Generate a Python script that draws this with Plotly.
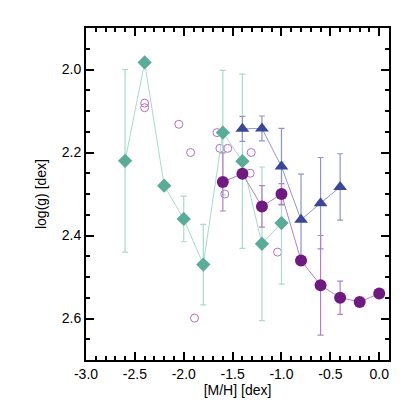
import plotly.graph_objects as go

# Teal diamonds
teal_x = [-2.6, -2.4, -2.2, -2.0, -1.8, -1.6, -1.4, -1.2, -1.0]
teal_y = [2.22, 1.983, 2.28, 2.36, 2.47, 2.152, 2.221, 2.42, 2.37]
teal_err = [0.22, 0.0, 0.0, 0.055, 0.097, 0.15, 0.21, 0.185, 0.147]

# Purple filled circles
purp_x = [-1.6, -1.4, -1.2, -1.0, -0.8, -0.6, -0.4, -0.2, 0.0]
purp_y = [2.271, 2.251, 2.33, 2.30, 2.46, 2.52, 2.55, 2.56, 2.54]
purp_err = [0.07, 0.0, 0.05, 0.025, 0.0, 0.12, 0.04, 0.0, 0.0]

# Blue triangles
blue_x = [-1.4, -1.2, -1.0, -0.8, -0.6, -0.4]
blue_y = [2.143, 2.142, 2.234, 2.362, 2.322, 2.283]
blue_err = [0.03, 0.03, 0.092, 0.11, 0.11, 0.08]

# Open circles
open_x = [-2.40, -2.40, -2.05, -1.93, -1.66, -1.63, -1.55, -1.58, -1.89, -1.31, -1.32, -1.04]
open_y = [2.081, 2.092, 2.132, 2.20, 2.152, 2.19, 2.19, 2.30, 2.599, 2.20, 2.25, 2.44]

x_ticks = [-3.0, -2.5, -2.0, -1.5, -1.0, -0.5, 0.0]
y_ticks = [2.0, 2.2, 2.4, 2.6]

FONT = "Liberation Sans, Arial, sans-serif"

fig = go.Figure()

fig.add_trace(go.Scatter(
    x=open_x, y=open_y, mode="markers",
    marker=dict(symbol="circle-open", size=8, color="#b56cc6", line=dict(width=1)),
    showlegend=False))

fig.add_trace(go.Scatter(
    x=teal_x, y=teal_y, mode="lines+markers",
    line=dict(color="#a9dacd", width=1),
    marker=dict(symbol="diamond", size=11, color="#5aab98"),
    error_y=dict(type="data", array=teal_err, color="#a9dacd", thickness=1.2, width=3),
    showlegend=False))

fig.add_trace(go.Scatter(
    x=blue_x, y=blue_y, mode="lines+markers",
    line=dict(color="#9097cc", width=1),
    marker=dict(symbol="triangle-up", size=12, color="#3a4798"),
    error_y=dict(type="data", array=blue_err, color="#8e95c9", thickness=1.2, width=3),
    showlegend=False))

fig.add_trace(go.Scatter(
    x=purp_x, y=purp_y, mode="lines+markers",
    line=dict(color="#b482c4", width=1),
    marker=dict(symbol="circle", size=12, color="#6f1a80"),
    error_y=dict(type="data", array=purp_err, color="#b482c4", thickness=1.2, width=3),
    showlegend=False))

axis_common = dict(
    showgrid=False, zeroline=False, showline=True, linecolor="black", linewidth=2,
    ticks="inside", tickcolor="black", tickwidth=1.5, ticklen=8,
    mirror="allticks",
    tickfont=dict(family=FONT, size=14, color="black"),
)

fig.update_xaxes(
    range=[-3.0, 0.1], tickvals=x_ticks, ticktext=[f"{v:.1f}" for v in x_ticks],
    minor=dict(dtick=0.1, ticks="inside", ticklen=4, tickcolor="black", tickwidth=1.5, tick0=0),
    title=dict(text="[M/H] [dex]", font=dict(family=FONT, size=14, color="black"), standoff=1),
    **axis_common)
fig.update_yaxes(
    range=[2.7, 1.9], tickvals=y_ticks, ticktext=[f"{v:.1f}" for v in y_ticks],
    minor=dict(dtick=0.05, ticks="inside", ticklen=4, tickcolor="black", tickwidth=1.5, tick0=0),
    title=dict(text="log(g) [dex]", font=dict(family=FONT, size=14, color="black"), standoff=12),
    **axis_common)

fig.update_layout(
    width=415, height=415,
    margin=dict(l=78, r=34, t=20, b=63),
    paper_bgcolor="white", plot_bgcolor="white",
    showlegend=False,
)

fig.write_html("out.html")
